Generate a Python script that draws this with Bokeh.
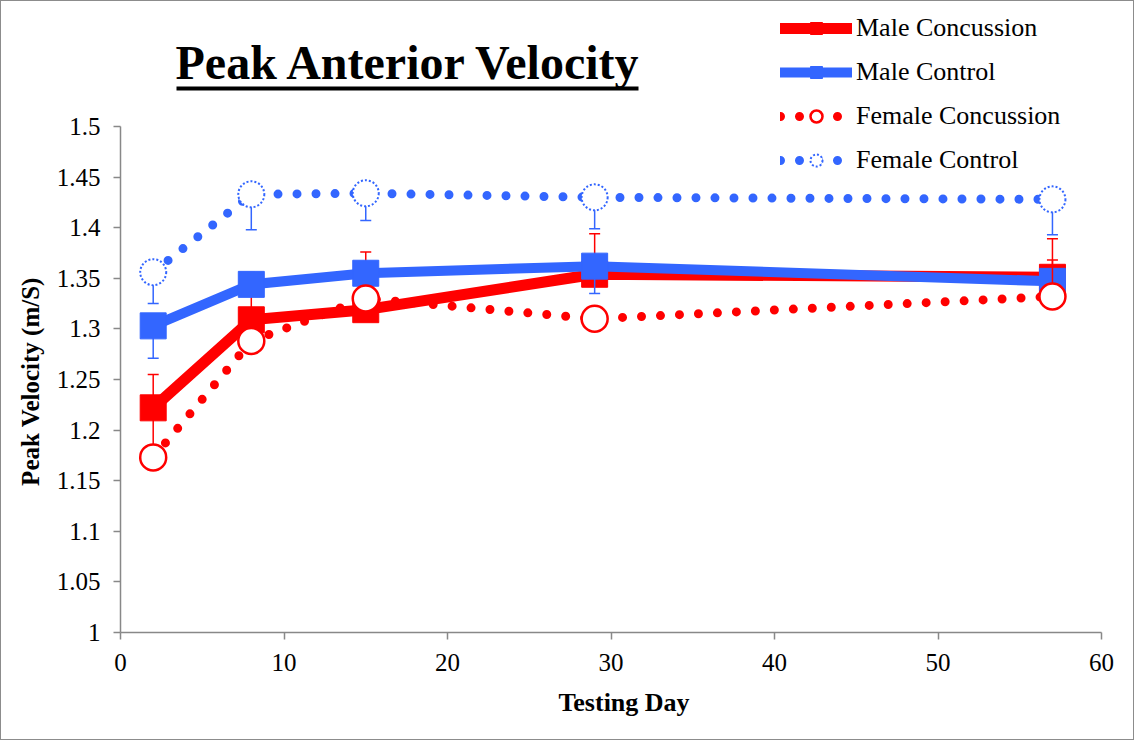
import math
from bokeh.plotting import figure
from bokeh.models import (Range1d, FixedTicker, CustomJSTickFormatter, Legend, LegendItem,
                          Label, BoxAnnotation, ColumnDataSource)
from bokeh.embed import file_html
from bokeh.resources import INLINE

NaN = float("nan")

# ---- data ----
days = [2, 8, 15, 29, 57]
male_concussion = [1.222, 1.309, 1.319, 1.354, 1.351]
male_control = [1.303, 1.344, 1.355, 1.362, 1.347]
female_concussion = [1.173, 1.288, 1.330, 1.310, 1.332]
female_control = [1.356, 1.433, 1.434, 1.430, 1.428]

# error bar magnitudes (one-sided as shown in the chart)
male_concussion_err_up = [0.033, 0.026, 0.057, 0.040, 0.017]
male_control_err_down = [0.032, NaN, NaN, 0.027, NaN]
female_concussion_err_up = [0.042, NaN, NaN, NaN, 0.057]
female_control_err_down = [0.031, 0.035, 0.027, 0.031, 0.035]

x_ticks = [0, 10, 20, 30, 40, 50, 60]
y_ticks = [1.0, 1.05, 1.1, 1.15, 1.2, 1.25, 1.3, 1.35, 1.4, 1.45, 1.5]

RED = "#FF0000"
BLUE = "#3366FF"
FONT = "Liberation Serif"
NB = "\u00a0"

# frame extends above the 1.5 line so the title and legend sit inside it
p = figure(frame_width=981, frame_height=627,
           min_border_left=119, min_border_right=32, min_border_top=4, min_border_bottom=107,
           x_range=Range1d(0, 60), y_range=Range1d(1.0, 1.0 + 627 / 1012),
           output_backend="svg", toolbar_location=None)
p.outline_line_color = None
p.grid.visible = False
p.background_fill_color = "white"
p.border_fill_color = "white"
p.styles = {"border": "1px solid #8c8c8c"}

for ax in (p.xaxis[0], p.yaxis[0]):
    ax.axis_line_color = "#888888"
    ax.axis_line_width = 1.5
    ax.major_tick_line_color = "#888888"
    ax.major_tick_line_width = 1.5
    ax.major_tick_out = 7
    ax.major_tick_in = 0
    ax.minor_tick_line_color = None
    ax.major_label_text_font = FONT
    ax.major_label_text_font_size = "25px"
    ax.major_label_text_color = "black"
    ax.axis_label_text_font = FONT
    ax.axis_label_text_font_style = "bold"
    ax.axis_label_text_color = "black"

p.xaxis.axis_label_text_font_size = "26px"
p.yaxis.axis_label_text_font_size = "25px"
p.yaxis.bounds = (1.0, 1.5)
p.xaxis.ticker = FixedTicker(ticks=x_ticks)
p.yaxis.ticker = FixedTicker(ticks=y_ticks)
p.yaxis.formatter = CustomJSTickFormatter(code="return String(Math.round(tick*100)/100);")
p.xaxis.major_label_standoff = 14
p.yaxis.major_label_standoff = 13
# non-breaking spaces only shift the centred labels to where the reference has them
p.xaxis.axis_label = NB * 4 + "Testing Day"
p.yaxis.axis_label = "Peak Velocity (m/S)" + NB * 20
p.xaxis.axis_label_standoff = 14
p.yaxis.axis_label_standoff = 10


def errbar(vals, errs, sign, color):
    ends = [v + sign * e if not math.isnan(e) else NaN for v, e in zip(vals, errs)]
    xs = [d if not math.isnan(e) else NaN for d, e in zip(days, ends)]
    src = ColumnDataSource(dict(x=xs, y0=vals, y1=ends))
    p.segment(x0="x", y0="y0", x1="x", y1="y1", source=src, line_color=color, line_width=1.5)
    p.scatter(x="x", y="y1", source=src, marker="dash", size=11, line_color=color, line_width=1.5)


# Male Concussion
mc_line = p.line(days, male_concussion, line_color=RED, line_width=11, line_join="round", line_cap="round")
errbar(male_concussion, male_concussion_err_up, 1, RED)
mc_mark = p.scatter(days, male_concussion, marker="square", size=26, fill_color=RED, line_color=RED)

# Male Control
mk_line = p.line(days, male_control, line_color=BLUE, line_width=10, line_join="round", line_cap="round")
errbar(male_control, male_control_err_down, -1, BLUE)
mk_mark = p.scatter(days, male_control, marker="square", size=26, fill_color=BLUE, line_color=BLUE)

# Female Concussion
fc_line = p.line(days, female_concussion, line_color=RED, line_width=9, line_dash="0 19", line_cap="round")
errbar(female_concussion, female_concussion_err_up, 1, RED)
fc_mark = p.scatter(days, female_concussion, marker="circle", size=26, fill_color="white",
                    line_color=RED, line_width=2.5)

# Female Control
fk_line = p.line(days, female_control, line_color=BLUE, line_width=9, line_dash="0 19", line_cap="round")
errbar(female_control, female_control_err_down, -1, BLUE)
fk_mark = p.scatter(days, female_control, marker="circle", size=26, fill_color="white",
                    line_color=BLUE, line_width=2, line_dash="2 2")

legend = Legend(items=[
    LegendItem(label="Male Concussion", renderers=[mc_line, mc_mark]),
    LegendItem(label="Male Control", renderers=[mk_line, mk_mark]),
    LegendItem(label="Female Concussion", renderers=[fc_line, fc_mark]),
    LegendItem(label="Female Control", renderers=[fk_line, fk_mark]),
], location=(660, 457), glyph_width=72, glyph_height=30, label_height=30, spacing=14,
    label_standoff=4, padding=0, margin=0, border_line_color=None, background_fill_alpha=0,
    label_text_font=FONT, label_text_font_size="26px", label_text_color="black")
p.add_layout(legend, "center")

p.add_layout(Label(x=55, y=570, x_units="screen", y_units="screen", text="Peak Anterior Velocity",
                   text_font=FONT, text_font_size="48px", text_font_style="bold",
                   text_color="black", text_baseline="alphabetic"))
p.add_layout(BoxAnnotation(left=56, right=518, bottom=542, top=546,
                           left_units="screen", right_units="screen",
                           bottom_units="screen", top_units="screen",
                           fill_color="black", fill_alpha=1, line_color=None))

open("out.html", "w").write(file_html(p, INLINE))
